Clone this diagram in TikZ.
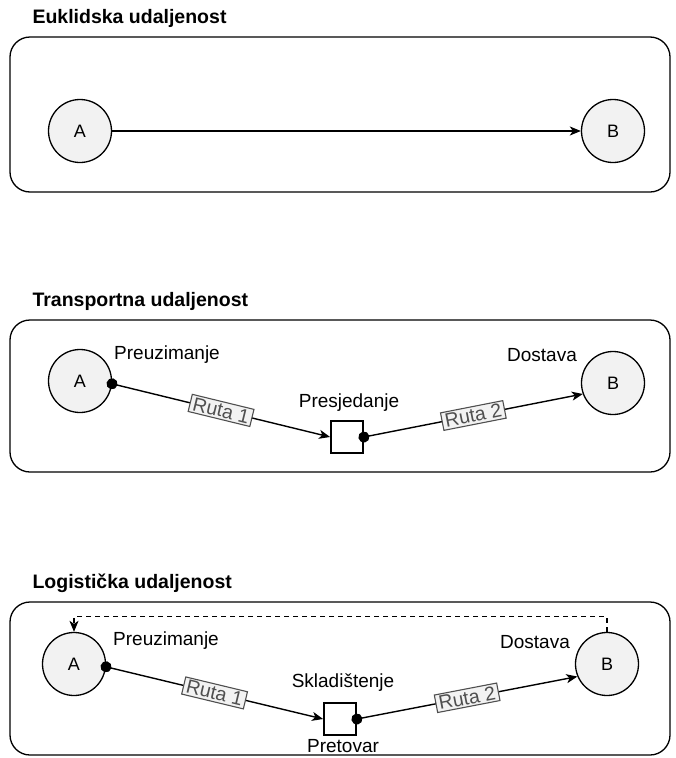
\documentclass[tikz,border=0pt]{standalone}
\usepackage{fontspec}
\setmainfont{Liberation Sans}
\usetikzlibrary{arrows.meta}
\definecolor{placefill}{HTML}{F2F2F2}
\definecolor{routegray}{HTML}{4F4F4F}

\begin{document}
\begin{tikzpicture}[x=1pt,y=-1pt,
    place/.style={circle,draw,line width=1.3pt,fill=placefill,minimum size=63pt,inner sep=0pt,font=\fontsize{18}{20}\selectfont},
    hub/.style={rectangle,draw,line width=1.8pt,fill=white,minimum size=32pt,inner sep=0pt},
    txt/.style={font=\fontsize{19}{21}\selectfont},
    heading/.style={anchor=base west,font=\fontsize{19.5}{22}\selectfont\bfseries},
    route/.style={draw=routegray,fill=placefill,text=routegray,line width=1.1pt,sloped,inner xsep=3pt,inner ysep=2pt,font=\fontsize{19.5}{21}\selectfont},
    frame/.style={draw,line width=1.3pt,rounded corners=20pt},
    link/.style={line width=1.4pt,-{Stealth[length=11pt,width=9pt,inset=3pt]}},
    dotlink/.style={link,{Circle[length=11pt]}-{Stealth[length=11pt,width=9pt,inset=3pt]},shorten <=-5.5pt}]

  \useasboundingbox (0,0) rectangle (675,758);

  % Euklidska
  \node[heading] (T1) at (29,23) {Euklidska udaljenost};
  \draw[frame] (10,37) rectangle (670,192);
  \node[place] (A1) at (80,131) {A};
  \node[place] (B1) at (613,131) {B};
  \draw[link] (A1) -- (B1);

  % Transportna
  \node[heading] (T2) at (29,306) {Transportna udaljenost};
  \draw[frame] (10,320) rectangle (670,472);
  \node[place] (A2) at (80,381) {A};
  \node[place] (B2) at (613,383) {B};
  \node[hub] (H2) at (347,437) {};
  \node[txt] (U2) at (167,355) {Preuzimanje};
  \node[txt] (D2) at (542,355) {Dostava};
  \node[txt] (S2) at (349,403) {Presjedanje};
  \draw[dotlink] (A2.-5) -- node[route] {Ruta 1} (H2.west);
  \draw[dotlink] (H2.east) -- node[route] {Ruta 2} (B2.200);

  % Logisticka
  \node[heading] (T3) at (29,588) {Logistička udaljenost};
  \draw[frame] (10,602) rectangle (670,755);
  \node[place] (A3) at (74,664) {A};
  \node[place] (B3) at (607,664) {B};
  \node[hub] (H3) at (340,719) {};
  \node[txt] (U3) at (166,641) {Preuzimanje};
  \node[txt] (D3) at (535,642) {Dostava};
  \node[txt] (K3) at (343,683) {Skladištenje};
  \node[txt] (V3) at (343,746) {Pretovar};
  \draw[dotlink] (A3.-5) -- node[route] {Ruta 1} (H3.west);
  \draw[dotlink] (H3.east) -- node[route] {Ruta 2} (B3.203);
  \draw[link,line width=1.2pt,dash pattern=on 5pt off 4pt] (B3.north) -- ++(0,-15) -| (A3.north);

\end{tikzpicture}
\end{document}
